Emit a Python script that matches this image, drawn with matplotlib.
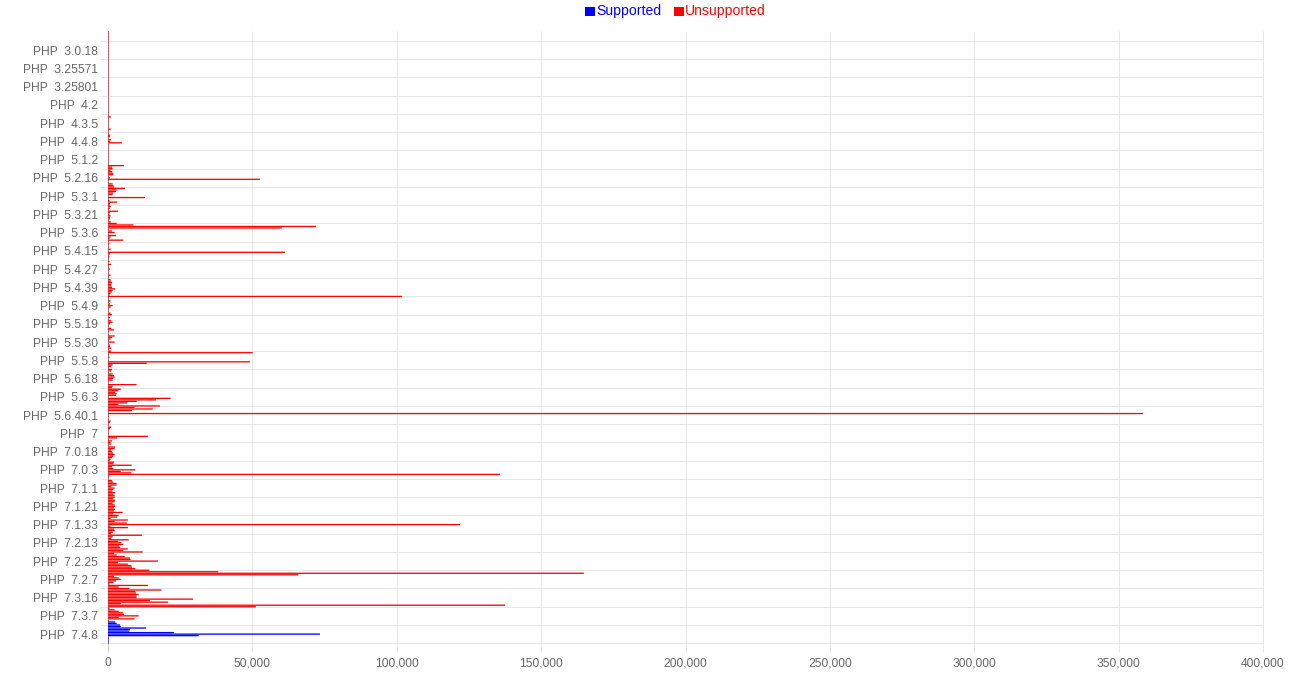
import matplotlib
matplotlib.use("Agg")
import matplotlib.pyplot as plt
import matplotlib.transforms as mtransforms
from matplotlib.patches import Rectangle

# ---------------- data ----------------
# visible category labels (every 12th category is labelled, first category has an empty label)
tick_labels = ["", "PHP  3.0.18", "PHP  3.25571", "PHP  3.25801", "PHP  4.2", "PHP  4.3.5",
               "PHP  4.4.8", "PHP  5.1.2", "PHP  5.2.16", "PHP  5.3.1", "PHP  5.3.21",
               "PHP  5.3.6", "PHP  5.4.15", "PHP  5.4.27", "PHP  5.4.39", "PHP  5.4.9",
               "PHP  5.5.19", "PHP  5.5.30", "PHP  5.5.8", "PHP  5.6.18", "PHP  5.6.3",
               "PHP  5.6.40.1", "PHP  7", "PHP  7.0.18", "PHP  7.0.3", "PHP  7.1.1",
               "PHP  7.1.21", "PHP  7.1.33", "PHP  7.2.13", "PHP  7.2.25", "PHP  7.2.7",
               "PHP  7.3.16", "PHP  7.3.7", "PHP  7.4.8"]

# Unsupported versions (categories 0 .. 387), 12 per row
unsupported_values = [
    250, 250, 250, 250, 250, 250, 250, 250, 250, 250, 250, 250,
    250, 250, 250, 250, 250, 250, 250, 250, 250, 250, 250, 250,
    250, 250, 250, 250, 250, 250, 250, 250, 250, 250, 250, 250,
    250, 250, 250, 250, 250, 250, 250, 250, 250, 250, 250, 250,
    250, 250, 250, 250, 250, 250, 250, 250, 1000, 250, 250, 250,
    250, 250, 250, 250, 900, 250, 250, 250, 800, 700, 250, 1000,
    700, 4800, 250, 250, 250, 250, 250, 250, 250, 250, 250, 250,
    250, 250, 250, 250, 5500, 1400, 1600, 900, 1400, 1850, 1850, 250,
    700, 52600, 250, 250, 1600, 1850, 2100, 5900, 3000, 2800, 1850, 1600,
    250, 12800, 250, 500, 3200, 700, 700, 900, 700, 250, 3460, 700,
    500, 900, 700, 700, 250, 1000, 3000, 8800, 72000, 60200, 250, 1400,
    2300, 250, 2800, 900, 500, 5300, 250, 500, 250, 250, 250, 900,
    250, 61300, 700, 250, 500, 250, 250, 500, 250, 1150, 250, 250,
    700, 250, 250, 250, 900, 250, 250, 900, 1150, 1400, 1150, 1150,
    1400, 2500, 1600, 1400, 900, 600, 101800, 250, 250, 900, 250, 700,
    1600, 900, 250, 250, 250, 900, 1400, 250, 700, 250, 1150, 1600,
    700, 250, 250, 1150, 2100, 250, 250, 250, 2300, 1400, 900, 250,
    2300, 250, 700, 700, 1150, 250, 1150, 50100, 250, 250, 500, 250,
    250, 49200, 13400, 1600, 1150, 250, 1400, 1150, 250, 1600, 2100, 2300,
    1850, 1600, 250, 250, 9900, 1600, 1400, 4400, 3600, 2500, 3000, 2800,
    250, 21700, 16600, 9900, 6700, 3600, 18000, 9200, 15500, 8300, 250, 358400,
    250, 250, 250, 250, 900, 700, 250, 250, 1150, 700, 250, 250,
    250, 250, 13800, 3200, 250, 1400, 900, 1150, 250, 2500, 2300, 1150,
    1400, 1850, 2300, 1850, 1400, 900, 600, 2100, 1850, 8200, 1400, 1850,
    9500, 4400, 8100, 135700, 500, 250, 250, 1400, 1850, 3000, 3000, 1200,
    2300, 1850, 1400, 2500, 1850, 2300, 2300, 1850, 2500, 2300, 1600, 2300,
    2500, 2100, 2400, 2100, 5100, 1850, 3700, 3200, 900, 6900, 2300, 6500,
    121900, 900, 6900, 2100, 2300, 1600, 1150, 11800, 1600, 1150, 7200, 3500,
    4600, 5300, 3900, 4200, 6900, 5300, 12000, 2100, 3000, 5800, 7600, 7800,
    17300, 3500, 6900, 8100, 8300, 9500, 14300, 38200, 164800, 65900, 2100, 3700,
    4400, 2800, 1850, 500, 13800, 3700, 7400, 18500, 9500, 9700, 10600, 9900,
    9900, 29500, 14500, 20800, 4400, 137500, 51200, 500, 2300, 3700, 5300, 5500,
    10600, 3700, 9200, 250,
]

# Supported versions (categories 388 .. 402)
supported_values = [2500, 3000, 4200, 4400, 13200, 7600, 7400, 22800,
                    73400, 31400, 250, 250, 250, 250, 250]

x_ticks = [0, 50000, 100000, 150000, 200000, 250000, 300000, 350000, 400000]

# ---------------- figure ----------------
W, H, DPI = 1311, 675, 100
plt.rcParams["font.family"] = ["Liberation Sans", "DejaVu Sans"]
fig = plt.figure(figsize=(W / DPI, H / DPI), dpi=DPI)
fig.patch.set_facecolor("white")

L, R, T, B = 108, 1263, 31, 644
ax = fig.add_axes([L / W, 1 - B / H, (R - L) / W, (B - T) / H])

n_unsup = len(unsupported_values)
n_total = n_unsup + len(supported_values)

bars_r = ax.barh(range(n_unsup), unsupported_values, height=0.85, color="#ff0000",
                 linewidth=0, zorder=3)
bars_b = ax.barh(range(n_unsup, n_total), supported_values, height=0.85, color="#0000ff",
                 linewidth=0, zorder=3)
for b in list(bars_r) + list(bars_b):
    b.set_snap(False)

ax.set_xlim(0, 400000)
ax.set_ylim(n_total - 0.5, -0.5)

for s in ax.spines.values():
    s.set_visible(False)

grid_c = "#e6e6e6"
px = 0.72  # 1 px in points
ytick_pos = list(range(0, n_total, 12))
ax.set_yticks(ytick_pos)
ax.set_yticklabels(tick_labels)
ax.set_xticks(x_ticks)
ax.set_xticklabels([f"{v:,}" for v in x_ticks])
ax.tick_params(axis="y", length=0, pad=10 * px, labelsize=12 * px, labelcolor="#666666")
ax.tick_params(axis="x", length=0, pad=13 * px, labelsize=12 * px, labelcolor="#666666")

# horizontal grid lines halfway between labelled categories (extend 8px left as tick marks)
grid_y = [p + 6 for p in ytick_pos]
tr_h = mtransforms.blended_transform_factory(ax.transAxes, ax.transData)
ax.hlines(grid_y, -8 / (R - L), 1, transform=tr_h, colors=grid_c, lw=1 * px,
          clip_on=False, zorder=1)
# vertical grid lines (extend 8px below)
tr_v = mtransforms.blended_transform_factory(ax.transData, ax.transAxes)
ax.vlines(x_ticks, -8 / (B - T), 1, transform=tr_v, colors=grid_c, lw=1 * px,
          clip_on=False, zorder=1)
ax.vlines([0], -8 / (B - T), 1, transform=tr_v, colors="#cccccc", lw=1 * px,
          clip_on=False, zorder=2)

# legend (top centre)
fig.add_artist(Rectangle((585 / W, 1 - 16 / H), 10 / W, 9 / H, transform=fig.transFigure,
                         facecolor="#0000ff", edgecolor="none"))
fig.text(596 / W, 1 - 15.5 / H, "Supported", color="#0000ff", fontsize=14 * px,
         ha="left", va="baseline")
fig.add_artist(Rectangle((674 / W, 1 - 16 / H), 10 / W, 9 / H, transform=fig.transFigure,
                         facecolor="#ff0000", edgecolor="none"))
fig.text(684.5 / W, 1 - 15.5 / H, "Unsupported", color="#ff0000", fontsize=14 * px,
         ha="left", va="baseline")

fig.savefig("out.png", dpi=DPI)
